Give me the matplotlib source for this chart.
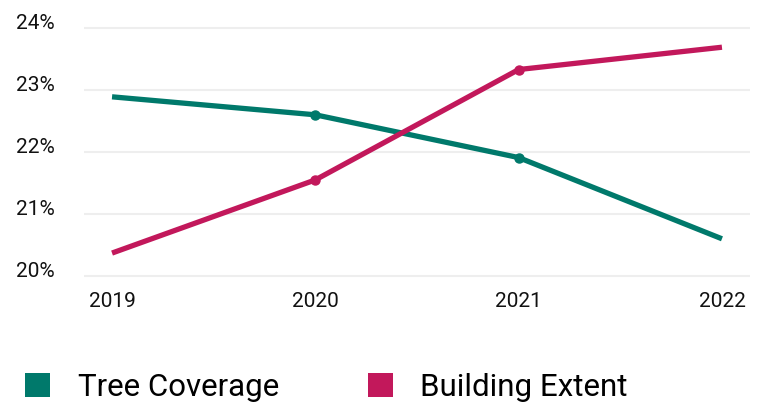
import matplotlib
matplotlib.use("Agg")
import matplotlib.pyplot as plt
from matplotlib.patches import Patch
from matplotlib.ticker import FuncFormatter

plt.rcParams['font.family'] = ['Roboto', 'DejaVu Sans']

years = [2019, 2020, 2021, 2022]
tree_coverage = [22.89, 22.60, 21.91, 20.60]
building_extent = [20.37, 21.55, 23.33, 23.69]
y_ticks = [20, 21, 22, 23, 24]
x_labels = ["2019", "2020", "2021", "2022"]
series_names = ["Tree Coverage", "Building Extent"]
colors = ["#00796B", "#C2185B"]

W, H = 764, 406
fig = plt.figure(figsize=(W / 100, H / 100), dpi=100)
left, right, top, bottom = 84, 750, 24, 282
ax = fig.add_axes([left / W, 1 - bottom / H, (right - left) / W, (bottom - top) / H])

for vals, col in zip([tree_coverage, building_extent], colors):
    ax.plot(years, vals, color=col, lw=3.8, marker='o', markersize=6.5,
            markevery=[1, 2], solid_capstyle='butt', zorder=3)

px_per_unit = 62.0
ax.set_ylim(20 - 5 / px_per_unit, 24 + 5 / px_per_unit)
px_per_year = 203.0
ax.set_xlim(2019 - 28 / px_per_year, 2022 + 28 / px_per_year)

ax.set_yticks(y_ticks)
ax.yaxis.set_major_formatter(FuncFormatter(lambda v, p: f"{int(round(v))}%"))
ax.set_xticks(years)
ax.set_xticklabels(x_labels)
ax.grid(axis='y', color='#EEEEEE', lw=1.5, zorder=0)
ax.grid(axis='x', visible=False)
for s in ax.spines.values():
    s.set_visible(False)
ax.tick_params(axis='both', length=0, labelsize=15, labelcolor='#111111')
ax.tick_params(axis='y', pad=68 * 0.72)
ax.tick_params(axis='x', pad=7)
for lbl in ax.get_yticklabels():
    lbl.set_ha('left')
    lbl.set_va('baseline')

handles = [Patch(facecolor=c, edgecolor='none') for c in colors]
fig.legend(handles, series_names, loc='center left',
           bbox_to_anchor=(25 / W, 1 - 388 / H), frameon=False, fontsize=22.5,
           handlelength=0.8, handleheight=0.8, handletextpad=0.88,
           columnspacing=2.85, ncol=2, borderpad=0, borderaxespad=0)

fig.savefig("out.png", dpi=100)
